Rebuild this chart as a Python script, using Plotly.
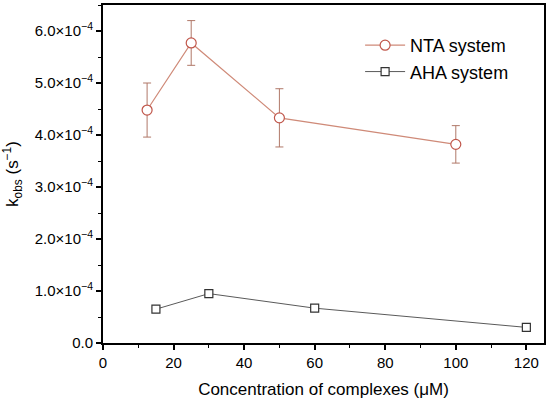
import plotly.graph_objects as go

nta_x = [12.5, 25, 50, 100]
nta_y = [4.48e-4, 5.77e-4, 4.33e-4, 3.82e-4]
nta_err = [0.52e-4, 0.43e-4, 0.56e-4, 0.36e-4]

aha_x = [15, 30, 60, 120]
aha_y = [0.65e-4, 0.95e-4, 0.67e-4, 0.30e-4]
aha_err = [0.03e-4, 0.03e-4, 0.02e-4, 0.03e-4]

y_tickvals = [0, 1e-4, 2e-4, 3e-4, 4e-4, 5e-4, 6e-4]
y_ticktext = ["0.0", "1.0×10<sup>−4</sup>", "2.0×10<sup>−4</sup>", "3.0×10<sup>−4</sup>",
              "4.0×10<sup>−4</sup>", "5.0×10<sup>−4</sup>", "6.0×10<sup>−4</sup>"]
x_tickvals = [0, 20, 40, 60, 80, 100, 120]

nta_color = "#cf8a78"
nta_marker = "#c0564a"
aha_color = "#5a5a5a"
FONT = "Liberation Sans, Arial, sans-serif"

fig = go.Figure()
fig.add_trace(go.Scatter(
    x=nta_x, y=nta_y, name="NTA system", mode="lines+markers",
    line=dict(color=nta_color, width=1.2),
    marker=dict(symbol="circle", size=10, color="white", line=dict(color=nta_marker, width=1.2)),
    error_y=dict(type="data", array=nta_err, color="#b07868", thickness=1, width=4),
))
fig.add_trace(go.Scatter(
    x=aha_x, y=aha_y, name="AHA system", mode="lines+markers",
    line=dict(color=aha_color, width=1),
    marker=dict(symbol="square", size=8, color="white", line=dict(color="#333333", width=1.2)),
    error_y=dict(type="data", array=aha_err, color="#333333", thickness=1, width=3),
))

axis_common = dict(showline=True, linecolor="black", linewidth=2, mirror=True,
                   ticks="outside", ticklen=5, tickwidth=1.5, tickcolor="black",
                   showgrid=False, zeroline=False, automargin=False,
                   tickfont=dict(family=FONT, size=15, color="black"))

fig.update_xaxes(range=[0, 125], tickvals=x_tickvals,
                 title=dict(text="Concentration of complexes (μM)",
                            font=dict(family=FONT, size=17, color="black"),
                            standoff=13),
                 minor=dict(tickvals=[10, 30, 50, 70, 90, 110], ticks="outside",
                            ticklen=3, tickwidth=1.2, tickcolor="black"),
                 **axis_common)
fig.update_yaxes(range=[0, 6.5e-4], tickvals=y_tickvals, ticktext=y_ticktext,
                 title=dict(text="k<sub>obs</sub> (s<sup>−1</sup>)",
                            font=dict(family=FONT, size=17, color="black"),
                            standoff=12),
                 minor=dict(tickvals=[0.5e-4, 1.5e-4, 2.5e-4, 3.5e-4, 4.5e-4, 5.5e-4, 6.5e-4],
                            ticks="outside", ticklen=3, tickwidth=1.2, tickcolor="black"),
                 **axis_common)

fig.update_layout(
    width=550, height=399,
    margin=dict(l=103, r=6, t=5, b=56),
    paper_bgcolor="white", plot_bgcolor="white",
    font=dict(family=FONT, color="black"),
    legend=dict(x=0.583, y=0.935, xanchor="left", yanchor="top",
                bgcolor="rgba(0,0,0,0)", borderwidth=0,
                font=dict(family=FONT, size=18, color="black"),
                itemwidth=40),
    showlegend=True,
)

fig.write_html("out.html", config={"displayModeBar": False},
               post_script="document.body.style.margin='0';document.body.style.overflow='hidden';")
